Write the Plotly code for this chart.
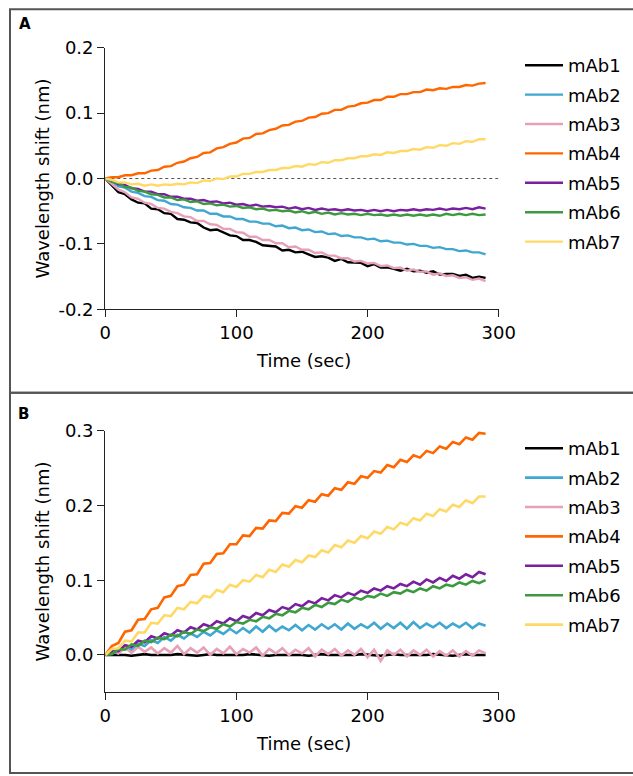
import plotly.graph_objects as go

# time points (sec)
time_sec = [0, 5, 10, 15, 20, 25, 30, 35, 40, 45, 50, 55, 60, 65, 70, 75, 80, 85, 90, 95,
            100, 105, 110, 115, 120, 125, 130, 135, 140, 145, 150, 155, 160, 165, 170, 175, 180, 185, 190, 195,
            200, 205, 210, 215, 220, 225, 230, 235, 240, 245, 250, 255, 260, 265, 270, 275, 280, 285, 290]

names = ["mAb1", "mAb2", "mAb3", "mAb4", "mAb5", "mAb6", "mAb7"]
colors = ["#000000", "#3fa7d0", "#e6a0b9", "#ff6600", "#7a1fa0", "#3c9a3e", "#ffd966"]

# panel A
a_mab1 = [0.000, -0.010, -0.021, -0.024, -0.032, -0.037, -0.038, -0.046, -0.047, -0.053, -0.054, -0.062, -0.063, -0.067, -0.068, -0.075, -0.079, -0.078, -0.083, -0.087,
          -0.088, -0.094, -0.094, -0.097, -0.102, -0.103, -0.104, -0.110, -0.109, -0.113, -0.112, -0.116, -0.120, -0.119, -0.121, -0.126, -0.123, -0.128, -0.129, -0.129,
          -0.134, -0.131, -0.136, -0.136, -0.138, -0.141, -0.138, -0.142, -0.141, -0.144, -0.142, -0.147, -0.146, -0.146, -0.149, -0.147, -0.152, -0.150, -0.152]
a_mab2 = [0.000, -0.005, -0.012, -0.014, -0.020, -0.022, -0.027, -0.028, -0.033, -0.034, -0.039, -0.040, -0.044, -0.045, -0.049, -0.049, -0.054, -0.054, -0.058, -0.058,
          -0.062, -0.062, -0.066, -0.066, -0.069, -0.069, -0.073, -0.072, -0.076, -0.075, -0.079, -0.078, -0.082, -0.081, -0.085, -0.084, -0.088, -0.087, -0.090, -0.090,
          -0.093, -0.092, -0.096, -0.095, -0.098, -0.098, -0.101, -0.100, -0.103, -0.103, -0.106, -0.105, -0.108, -0.108, -0.111, -0.110, -0.113, -0.113, -0.116]
a_mab3 = [0.000, -0.008, -0.017, -0.021, -0.029, -0.031, -0.037, -0.039, -0.045, -0.046, -0.051, -0.053, -0.058, -0.059, -0.065, -0.065, -0.070, -0.071, -0.077, -0.077,
          -0.082, -0.083, -0.089, -0.089, -0.094, -0.094, -0.099, -0.099, -0.105, -0.104, -0.109, -0.109, -0.114, -0.113, -0.118, -0.118, -0.122, -0.122, -0.127, -0.126,
          -0.130, -0.129, -0.134, -0.133, -0.137, -0.136, -0.141, -0.139, -0.143, -0.142, -0.147, -0.145, -0.149, -0.148, -0.152, -0.151, -0.155, -0.153, -0.157]
a_mab4 = [0.000, 0.002, 0.002, 0.005, 0.005, 0.008, 0.008, 0.012, 0.013, 0.018, 0.019, 0.024, 0.026, 0.031, 0.033, 0.039, 0.040, 0.046, 0.048, 0.053,
          0.055, 0.061, 0.062, 0.068, 0.069, 0.074, 0.076, 0.081, 0.082, 0.087, 0.088, 0.093, 0.094, 0.099, 0.100, 0.105, 0.105, 0.110, 0.111, 0.115,
          0.116, 0.120, 0.120, 0.125, 0.125, 0.129, 0.129, 0.132, 0.132, 0.136, 0.135, 0.138, 0.137, 0.140, 0.140, 0.143, 0.142, 0.145, 0.146]
a_mab5 = [0.000, -0.003, -0.009, -0.010, -0.015, -0.016, -0.020, -0.020, -0.024, -0.024, -0.028, -0.028, -0.031, -0.031, -0.034, -0.033, -0.036, -0.035, -0.038, -0.037,
          -0.040, -0.039, -0.042, -0.040, -0.043, -0.042, -0.044, -0.043, -0.046, -0.044, -0.047, -0.045, -0.048, -0.046, -0.048, -0.047, -0.049, -0.047, -0.049, -0.048,
          -0.050, -0.048, -0.050, -0.048, -0.050, -0.048, -0.049, -0.047, -0.049, -0.047, -0.048, -0.046, -0.048, -0.046, -0.047, -0.045, -0.047, -0.044, -0.046]
a_mab6 = [0.000, -0.005, -0.007, -0.013, -0.014, -0.019, -0.020, -0.024, -0.025, -0.029, -0.029, -0.033, -0.032, -0.036, -0.035, -0.039, -0.038, -0.041, -0.040, -0.043,
          -0.042, -0.045, -0.044, -0.047, -0.046, -0.049, -0.048, -0.050, -0.049, -0.052, -0.050, -0.053, -0.051, -0.054, -0.052, -0.055, -0.053, -0.055, -0.054, -0.056,
          -0.054, -0.056, -0.055, -0.057, -0.055, -0.057, -0.055, -0.057, -0.055, -0.057, -0.055, -0.057, -0.054, -0.056, -0.054, -0.056, -0.054, -0.056, -0.055]
a_mab7 = [0.000, -0.002, -0.006, -0.006, -0.009, -0.008, -0.011, -0.009, -0.011, -0.009, -0.010, -0.008, -0.009, -0.006, -0.007, -0.003, -0.004, 0.000, -0.001, 0.003,
          0.003, 0.007, 0.007, 0.010, 0.010, 0.013, 0.013, 0.016, 0.016, 0.019, 0.018, 0.022, 0.021, 0.025, 0.024, 0.028, 0.028, 0.031, 0.031, 0.034,
          0.034, 0.037, 0.036, 0.040, 0.039, 0.042, 0.042, 0.045, 0.044, 0.048, 0.047, 0.051, 0.050, 0.054, 0.053, 0.057, 0.056, 0.060, 0.060]

# panel B
b_mab1 = [0.000, 0.000, 0.001, 0.000, -0.001, 0.000, 0.001, 0.000, 0.000, -0.001, 0.000, 0.001, 0.000, 0.000, -0.001, 0.000, 0.001, 0.000, 0.000, 0.000,
          -0.001, 0.000, 0.001, 0.000, 0.000, -0.001, 0.000, 0.000, 0.001, 0.000, 0.000, -0.001, 0.000, 0.001, 0.000, 0.000, -0.001, 0.000, 0.000, 0.001,
          0.000, 0.000, -0.001, 0.000, 0.001, 0.000, 0.000, -0.001, 0.000, 0.000, 0.001, 0.000, 0.000, -0.001, 0.000, 0.001, 0.000, 0.000, 0.000]
b_mab2 = [0.000, 0.004, 0.002, 0.011, 0.007, 0.015, 0.012, 0.020, 0.016, 0.024, 0.019, 0.027, 0.022, 0.029, 0.024, 0.031, 0.026, 0.033, 0.028, 0.035,
          0.029, 0.036, 0.030, 0.038, 0.031, 0.039, 0.032, 0.038, 0.033, 0.040, 0.033, 0.040, 0.034, 0.041, 0.035, 0.041, 0.034, 0.042, 0.035, 0.041,
          0.036, 0.043, 0.035, 0.042, 0.036, 0.043, 0.035, 0.044, 0.036, 0.042, 0.037, 0.043, 0.036, 0.042, 0.037, 0.043, 0.036, 0.042, 0.039]
b_mab3 = [0.000, 0.008, 0.002, 0.010, 0.003, 0.011, 0.004, 0.010, 0.002, 0.009, 0.003, 0.012, 0.001, 0.009, 0.003, 0.010, 0.000, 0.008, 0.002, 0.011,
          0.001, 0.008, 0.003, 0.010, -0.001, 0.008, 0.002, 0.009, 0.000, 0.007, 0.002, 0.009, -0.002, 0.007, 0.001, 0.008, -0.001, 0.006, 0.000, 0.008,
          -0.003, 0.007, -0.008, 0.006, 0.000, 0.007, -0.002, 0.006, 0.000, 0.007, -0.002, 0.005, -0.001, 0.006, -0.002, 0.005, -0.001, 0.006, 0.002]
b_mab4 = [0.000, 0.012, 0.016, 0.031, 0.033, 0.047, 0.048, 0.061, 0.063, 0.077, 0.079, 0.092, 0.094, 0.107, 0.108, 0.122, 0.123, 0.135, 0.136, 0.148,
          0.148, 0.160, 0.159, 0.170, 0.169, 0.180, 0.179, 0.190, 0.189, 0.199, 0.197, 0.207, 0.205, 0.215, 0.213, 0.223, 0.221, 0.231, 0.229, 0.239,
          0.237, 0.246, 0.244, 0.254, 0.251, 0.261, 0.258, 0.267, 0.264, 0.273, 0.270, 0.279, 0.276, 0.285, 0.282, 0.291, 0.288, 0.297, 0.296]
b_mab5 = [0.000, 0.005, 0.005, 0.013, 0.011, 0.019, 0.017, 0.025, 0.022, 0.029, 0.026, 0.033, 0.030, 0.037, 0.034, 0.041, 0.038, 0.045, 0.042, 0.049,
          0.045, 0.052, 0.049, 0.056, 0.053, 0.060, 0.057, 0.064, 0.061, 0.068, 0.065, 0.072, 0.069, 0.076, 0.073, 0.080, 0.077, 0.083, 0.080, 0.086,
          0.083, 0.089, 0.086, 0.092, 0.089, 0.095, 0.092, 0.098, 0.094, 0.101, 0.097, 0.103, 0.099, 0.106, 0.102, 0.108, 0.104, 0.111, 0.108]
b_mab6 = [0.000, 0.001, 0.008, 0.007, 0.014, 0.012, 0.019, 0.017, 0.023, 0.021, 0.027, 0.025, 0.031, 0.028, 0.034, 0.032, 0.037, 0.035, 0.041, 0.038,
          0.044, 0.042, 0.047, 0.045, 0.051, 0.049, 0.055, 0.053, 0.059, 0.057, 0.063, 0.061, 0.067, 0.064, 0.070, 0.068, 0.074, 0.071, 0.077, 0.074,
          0.079, 0.077, 0.082, 0.079, 0.084, 0.082, 0.087, 0.084, 0.089, 0.086, 0.092, 0.089, 0.094, 0.092, 0.097, 0.094, 0.099, 0.096, 0.100]
b_mab7 = [0.000, 0.008, 0.009, 0.019, 0.018, 0.030, 0.030, 0.043, 0.042, 0.053, 0.052, 0.063, 0.061, 0.071, 0.069, 0.079, 0.077, 0.087, 0.084, 0.094,
          0.091, 0.100, 0.098, 0.107, 0.104, 0.114, 0.111, 0.121, 0.118, 0.127, 0.124, 0.133, 0.131, 0.140, 0.137, 0.147, 0.144, 0.153, 0.150, 0.159,
          0.156, 0.165, 0.162, 0.171, 0.168, 0.177, 0.174, 0.183, 0.180, 0.189, 0.186, 0.195, 0.192, 0.201, 0.198, 0.207, 0.203, 0.212, 0.212]

a_series = [a_mab1, a_mab2, a_mab3, a_mab4, a_mab5, a_mab6, a_mab7]
b_series = [b_mab1, b_mab2, b_mab3, b_mab4, b_mab5, b_mab6, b_mab7]

x_ticks = [0, 100, 200, 300]
a_yticks = [-0.2, -0.1, 0.0, 0.1, 0.2]
a_yticklabels = ["-0.2", "-0.1", "0.0", "0.1", "0.2"]
b_yticks = [0.0, 0.1, 0.2, 0.3]
b_yticklabels = ["0.0", "0.1", "0.2", "0.3"]

FONT = "DejaVu Sans"
W, H = 633, 776

fig = go.Figure()

for i, name in enumerate(names):
    fig.add_trace(go.Scatter(x=time_sec, y=a_series[i], mode="lines", name=name,
                             line=dict(color=colors[i], width=2.4),
                             xaxis="x", yaxis="y", legend="legend", legendgroup="A" + name))
for i, name in enumerate(names):
    fig.add_trace(go.Scatter(x=time_sec, y=b_series[i], mode="lines", name=name,
                             line=dict(color=colors[i], width=2.6),
                             xaxis="x2", yaxis="y2", legend="legend2", legendgroup="B" + name))

axis_common = dict(showgrid=False, zeroline=False, showline=True, linecolor="#222",
                   linewidth=1.3, ticks="outside", ticklen=7, tickwidth=1.3, tickcolor="#222",
                   automargin=False,
                   tickfont=dict(family=FONT, size=18, color="#000"))

x_dom = [105.3 / W, 498.7 / W]
fig.update_layout(
    xaxis=dict(domain=x_dom, range=[0, 300], tickvals=x_ticks, anchor="y", **axis_common),
    yaxis=dict(domain=[1 - 309.3 / H, 1 - 47.7 / H], range=[-0.2, 0.2],
               tickvals=a_yticks, ticktext=a_yticklabels, anchor="x", **axis_common),
    xaxis2=dict(domain=x_dom, range=[0, 300], tickvals=x_ticks, anchor="y2", **axis_common),
    yaxis2=dict(domain=[1 - 692.3 / H, 1 - 430.7 / H], range=[-0.05, 0.3],
                tickvals=b_yticks, ticktext=b_yticklabels, anchor="x2", **axis_common),
)

legend_common = dict(xanchor="left", yanchor="top", bgcolor="rgba(0,0,0,0)",
                     font=dict(family=FONT, size=18, color="#000"),
                     traceorder="grouped", tracegroupgap=3, itemwidth=38)
fig.update_layout(
    legend=dict(x=520 / W, y=1 - 47 / H, **legend_common),
    legend2=dict(x=520 / W, y=1 - 430 / H, **legend_common),
)

# zero reference line in panel A and panel frames
shapes = [
    dict(type="line", xref="x", yref="y", x0=0, x1=300, y0=0, y1=0, layer="below",
         line=dict(color="#555", width=1, dash="dot")),
    dict(type="rect", xref="paper", yref="paper", x0=10 / W, x1=1.01, y0=1 - 392.7 / H, y1=1 - 9.3 / H,
         line=dict(color="#555", width=2)),
    dict(type="rect", xref="paper", yref="paper", x0=10 / W, x1=1.01, y0=1 - 773 / H, y1=1 - 392.7 / H,
         line=dict(color="#555", width=2)),
]

annotations = [
    dict(text="<b>A</b>", x=25 / W, y=1 - 24 / H),
    dict(text="<b>B</b>", x=23 / W, y=1 - 413.5 / H),
    dict(text="Wavelength shift (nm)", x=42 / W, y=1 - 178.5 / H, textangle=-90, font=dict(size=18)),
    dict(text="Wavelength shift (nm)", x=42 / W, y=1 - 561.5 / H, textangle=-90, font=dict(size=18)),
    dict(text="Time (sec)", x=303 / W, y=1 - 360 / H, font=dict(size=18)),
    dict(text="Time (sec)", x=303 / W, y=1 - 743 / H, font=dict(size=18)),
]
for a in annotations:
    a.update(xref="paper", yref="paper", showarrow=False, xanchor="center", yanchor="middle")
    a.setdefault("font", {})
    a["font"] = dict(family=FONT, color="#000", size=a["font"].get("size", 15))

fig.update_layout(
    width=W, height=H,
    margin=dict(l=0, r=0, t=0, b=0),
    paper_bgcolor="white", plot_bgcolor="white",
    font=dict(family=FONT, size=18, color="#000"),
    shapes=shapes, annotations=annotations,
    showlegend=True,
)

# page body margin off so the figure fills the window exactly
fig.write_html("out.html", config={"displayModeBar": False},
               post_script="document.body.style.margin='0';")
